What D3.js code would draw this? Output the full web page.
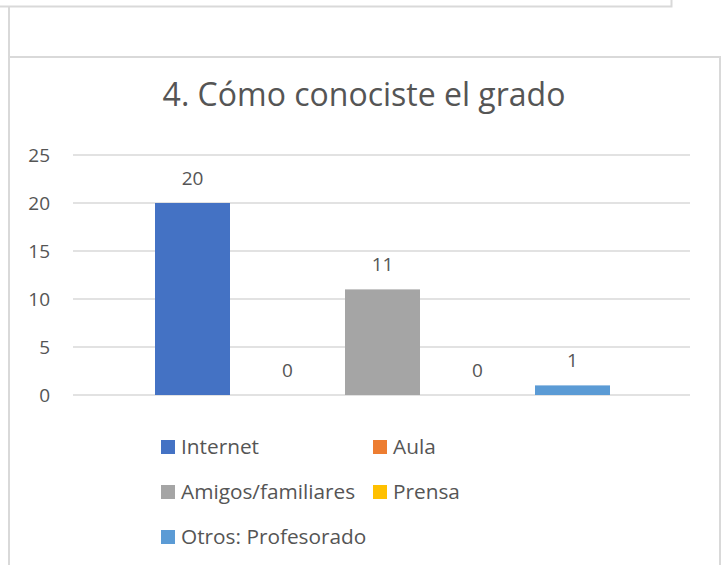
<html>
  <head>
    <meta charset='utf-8'>
    <script src='https://d3js.org/d3.v7.min.js'></script>
    <style>
      body { margin: 0; background: #fff; }
      text { font-family: 'Open Sans', sans-serif; fill: #555; }
    </style>
  </head>
  <body>
    <div id='chart'></div>
    <script>
        // data
        const title = '4. Cómo conociste el grado';
        const seriesNames = ['Internet', 'Aula', 'Amigos/familiares', 'Prensa', 'Otros: Profesorado'];
        const seriesValues = [20, 0, 11, 0, 1];
        const seriesColors = ['#4472c4', '#ed7d31', '#a5a5a5', '#ffc000', '#5b9bd5'];
        const yTicks = [0, 5, 10, 15, 20, 25];

        const W = 728, H = 565;
        const svg = d3.select('#chart').append('svg')
            .attr('width', W).attr('height', H);

        // frames from the surrounding document
        const frame = svg.append('g')
            .attr('fill', 'none').attr('stroke', '#d9d9d9').attr('stroke-width', 2);
        frame.append('path').attr('d', 'M0,6.5H671.5V0');
        frame.append('path').attr('d', 'M9,6V565');
        frame.append('path').attr('d', 'M9,57H720V565');

        svg.append('text')
            .attr('x', 364).attr('y', 106)
            .attr('text-anchor', 'middle')
            .style('font-size', '32px')
            .text(title);

        const plot = { left: 73, right: 690, top: 155, bottom: 395 };

        const y = d3.scaleLinear().domain([0, 25]).range([plot.bottom, plot.top]);
        const x = d3.scaleBand().domain(seriesNames)
            .range([155, 610]).paddingInner(20 / 95).paddingOuter(0);

        const grid = svg.append('g');
        grid.selectAll('line').data(yTicks).join('line')
            .attr('x1', plot.left).attr('x2', plot.right)
            .attr('y1', d => y(d)).attr('y2', d => y(d))
            .attr('stroke', '#d9d9d9').attr('stroke-width', 1.3);

        const yAxis = d3.axisLeft(y).tickValues(yTicks).tickSize(0).tickPadding(0);
        svg.append('g')
            .attr('transform', 'translate(50,0)')
            .call(yAxis)
            .call(g => g.select('.domain').remove())
            .selectAll('text')
            .style('font-size', '19px')
            .style('font-family', "'Open Sans', sans-serif")
            .style('fill', '#555');

        const data = seriesNames.map((n, i) => ({ name: n, value: seriesValues[i], color: seriesColors[i] }));

        svg.append('g').selectAll('rect').data(data).join('rect')
            .attr('x', d => x(d.name))
            .attr('width', x.bandwidth())
            .attr('y', d => y(d.value))
            .attr('height', d => y(0) - y(d.value))
            .attr('fill', d => d.color);

        svg.append('g').selectAll('text').data(data).join('text')
            .attr('x', d => x(d.name) + x.bandwidth() / 2)
            .attr('y', d => y(d.value) - 18)
            .attr('text-anchor', 'middle')
            .style('font-size', '19px')
            .text(d => d.value);

        // legend
        const legendPos = [[161, 447], [373, 447], [161, 492], [373, 492], [161, 537]];
        const legend = svg.append('g').selectAll('g').data(data).join('g')
            .attr('transform', (d, i) => `translate(${legendPos[i][0]},${legendPos[i][1]})`);
        legend.append('rect')
            .attr('x', 0).attr('y', -7).attr('width', 14).attr('height', 14)
            .attr('fill', d => d.color);
        legend.append('text')
            .attr('x', 20).attr('y', 7)
            .style('font-size', '20.8px')
            .text(d => d.name);
    </script>
  </body>
</html>
